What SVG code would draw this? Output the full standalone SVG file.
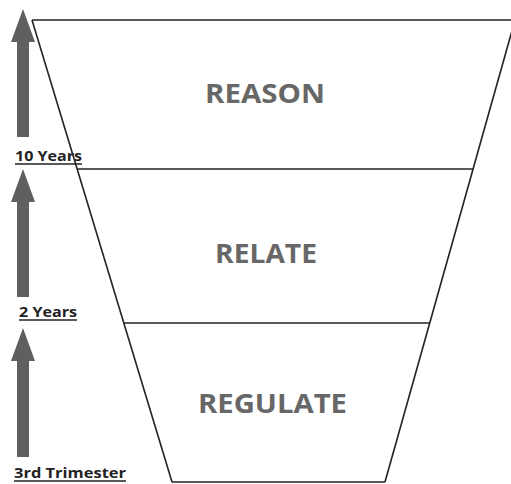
<svg xmlns="http://www.w3.org/2000/svg" width="511" height="484" viewBox="0 0 511 484">
<style>
.ln{stroke:#222;stroke-width:1.6;fill:none}
.arr{fill:#5f5f5f}
.big{font-family:"Open Sans","Liberation Sans",Arial,sans-serif;font-weight:bold;font-size:27px;fill:#676767;text-anchor:middle}
.sm{font-family:"Open Sans","Liberation Sans",sans-serif;font-weight:bold;font-size:14.5px;fill:#222}
</style>
<rect width="511" height="484" fill="#fff"/>
<g id="connectors">
<line class="ln" x1="32" y1="20" x2="515" y2="20"/>
<line class="ln" x1="32" y1="20" x2="172" y2="482"/>
<line class="ln" x1="515" y1="20" x2="385" y2="482"/>
<line class="ln" x1="77" y1="169" x2="473" y2="169"/>
<line class="ln" x1="124" y1="323" x2="430" y2="323"/>
<line class="ln" x1="172" y1="482" x2="385" y2="482"/>
</g>
<g id="reason"><text class="big" x="265" y="103" textLength="120" lengthAdjust="spacingAndGlyphs">REASON</text></g>
<g id="relate"><text class="big" x="266" y="263" textLength="102" lengthAdjust="spacingAndGlyphs">RELATE</text></g>
<g id="regulate"><text class="big" x="272.5" y="413" textLength="149" lengthAdjust="spacingAndGlyphs">REGULATE</text></g>
<g id="arrow1"><polygon class="arr" points="23,9 35,42 29,42 29,137 17,137 17,42 11,42"/></g>
<g id="arrow2"><polygon class="arr" points="23,169 35,202 29,202 29,297 17,297 17,202 11,202"/></g>
<g id="arrow3"><polygon class="arr" points="23,328 35,361 29,361 29,457 17,457 17,361 11,361"/></g>
<g id="label10"><text class="sm" x="15" y="161" textLength="67" lengthAdjust="spacingAndGlyphs">10 Years</text><line x1="15" y1="164" x2="82" y2="164" stroke="#222" stroke-width="1.3"/></g>
<g id="label2"><text class="sm" x="19" y="317" textLength="58" lengthAdjust="spacingAndGlyphs">2 Years</text><line x1="19" y1="320" x2="77" y2="320" stroke="#222" stroke-width="1.3"/></g>
<g id="label3"><text class="sm" x="14" y="478" textLength="112" lengthAdjust="spacingAndGlyphs">3rd Trimester</text><line x1="14" y1="481" x2="126" y2="481" stroke="#222" stroke-width="1.3"/></g>
</svg>
